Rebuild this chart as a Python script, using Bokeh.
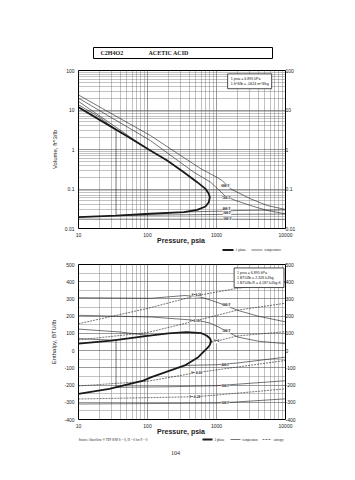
from bokeh.plotting import figure
from bokeh.models import FixedTicker, Label, LogAxis, LinearAxis, Range1d
from bokeh.layouts import column
from bokeh.embed import file_html
from bokeh.resources import INLINE

FONT = "Liberation Sans"

# ---------------- data ----------------
title_formula = "C2H4O2"
title_name = "ACETIC ACID"

pressure_ticks = [10, 100, 1000, 10000]
pressure_labels = ["10", "100", "1000", "10000"]
volume_ticks = [0.01, 0.1, 1, 10, 100]
volume_labels = ["0.01", "0.1", "1", "10", "100"]
enthalpy_ticks = [-400, -300, -200, -100, 0, 100, 200, 300, 400, 500]
enthalpy_labels = ["-400", "-300", "-200", "-100", "0", "100", "200", "300", "400", "500"]
enthalpy_minor = [-350, -250, -150, -50, 50, 150, 250, 350, 450]

# volume chart (psia, ft^3/lb)
sat_vol_p = [10, 20, 50, 110, 193, 336, 525, 693, 773, 800, 773, 693, 525, 336, 110, 35, 10]
sat_vol_v = [11.8, 5.7, 2.2, 0.944, 0.527, 0.266, 0.149, 0.101, 0.0755, 0.062,
             0.0463, 0.0361, 0.0297, 0.0259, 0.0236, 0.0213, 0.0193]
t600_vol_p = [10, 30, 110, 300, 587, 1000, 1210, 1596, 3111, 5430, 10000]
t600_vol_v = [24, 8.1, 2.26, 0.71, 0.33, 0.2, 0.164, 0.101, 0.0565, 0.0382, 0.0303]
t500_vol_p = [10, 30, 110, 300, 469, 819, 1080, 1350, 1885, 3111, 5430, 10000]
t500_vol_v = [20, 6.4, 1.69, 0.47, 0.266, 0.149, 0.0955, 0.065, 0.0512, 0.0382, 0.0286, 0.0236]
t400_vap_p = [10, 30, 90]
t400_vap_v = [16.5, 4.4, 1.17]
t300_vap_p = [10, 20, 35, 35]
t300_vap_v = [13.5, 6.6, 3.17, 0.0213]
t400_liq_p = [336, 1200, 2000, 10000]
t400_liq_v = [0.0262, 0.0275, 0.0285, 0.0295]
t300_liq_p = [35, 300, 1200, 10000]
t300_liq_v = [0.0213, 0.0222, 0.0228, 0.0232]
t100_liq_p = [10, 1200, 10000]
t100_liq_v = [0.0172, 0.0172, 0.0170]
vol_label_text = ["600 F", "500 F", "400 F", "300 F", "100 F"]
vol_label_p = [1350, 1395, 1395, 1420, 1440]
vol_label_v = [0.116, 0.0592, 0.0303, 0.0244, 0.0172]

# enthalpy chart (psia, BTU/lb)
sat_h_p = [10, 30, 100, 200, 367, 606, 717, 800, 835, 800, 758, 543, 347, 114, 87, 28, 10]
sat_h_h = [40, 58, 85, 100, 107, 101, 88, 72, 55, 33, 20, -38, -86, -154, -174, -222, -251]
t600_h_p = [10, 114, 350, 600, 900, 1200, 2100, 4000, 10000]
t600_h_h = [307, 304, 320, 310, 288, 270, 232, 200, 167]
t500_h_p = [10, 114, 543, 800, 1060, 1390, 2060, 4000, 10000]
t500_h_h = [205, 195, 175, 160, 138, 112, 78, 55, 40]
t400_hv_p = [10, 40, 110]
t400_hv_h = [125, 108, 87]
t300_hv_p = [10, 20, 35, 35]
t300_hv_h = [70, 64, 60, -213]
t400_hl_p = [350, 1000, 2000, 10000]
t400_hl_h = [-86, -82, -72, -38]
t300_hl_p = [35, 200, 1000, 2000, 10000]
t300_hl_h = [-213, -210, -204, -195, -175]
t100_hl_p = [10, 1000, 2000, 10000]
t100_hl_h = [-310, -305, -298, -280]
s020_p = [10, 100, 500, 2000, 10000]
s020_h = [156, 245, 318, 362, 397]
s010_p = [10, 100, 475, 2000, 10000]
s010_h = [62, 105, 171, 235, 275]
s000_p = [835, 1000, 2000, 10000]
s000_h = [50, 55, 85, 110]
sm010_p = [10, 100, 513, 1000, 10000]
sm010_h = [-205, -178, -128, -112, -57]
sm020_p = [10, 475, 1000, 10000]
sm020_h = [-281, -268, -258, -222]
h_label_text = ["600 F", "500 F", "400 F", "300 F", "100 F",
                "S=0.20", "S=0.10", "S=0", "S=-0.10", "S=-0.20"]
h_label_p = [1396, 1396, 1344, 1344, 1344, 513, 481, 1000, 513, 481]
h_label_h = [262, 111, -82, -203, -305, 324, 171, 55, -131, -267]

source_text = "Source: Interflow \u00ae TPP 8/89  S = 0, H = 0 for P = 0"
page_number = "104"

minor_p = [k * 10 ** e for e in (1, 2, 3) for k in range(2, 10)]
minor_v = [k * 10.0 ** e for e in (-2, -1, 0, 1) for k in range(2, 10)]

GRID = "#555555"
LINE = "#1a1a1a"
TXT = "#222222"
BL, FW, BR = 78, 207, 70   # shared borders / frame width (px)


def style(p):
    p.outline_line_color = "black"
    p.outline_line_width = 1
    for ax in p.axis:
        ax.major_label_text_font = FONT
        ax.major_label_text_font_size = "5px"
        ax.major_label_text_color = TXT
        ax.major_tick_out = 0
        ax.major_tick_in = 0
        ax.minor_tick_line_color = None
        ax.axis_line_color = None
        ax.major_label_standoff = 0
        ax.axis_label_text_font = FONT
        ax.axis_label_text_font_style = "normal"
        ax.axis_label_text_color = TXT
    for g in p.grid:
        g.grid_line_color = GRID
        g.grid_line_width = 0.6
        g.minor_grid_line_color = "#777777"
        g.minor_grid_line_width = 0.45


def strip(height, top=0):
    s = figure(frame_width=FW, frame_height=height, min_border_left=BL, min_border_right=BR,
               min_border_top=top, min_border_bottom=0, x_range=Range1d(0, FW),
               y_range=Range1d(height, 0), output_backend="svg", toolbar_location=None)
    s.axis.visible = False
    s.grid.visible = False
    s.outline_line_color = None
    return s


def xlabel_style(p):
    p.xaxis.axis_label_text_font_size = "7px"
    p.xaxis.axis_label_text_font_style = "bold"
    p.xaxis.axis_label_standoff = -3
    p.yaxis[0].axis_label_text_font_size = "6px"
    p.yaxis[0].axis_label_standoff = 4


# ---------------- title box ----------------
pt = strip(62)
pt.quad(left=[15], right=[194], top=[47], bottom=[58], fill_color=None, line_color="black", line_width=1)
pt.text(x=[22, 70], y=[52.5, 52.5], text=[title_formula, title_name], text_font=FONT,
        text_font_size="6px", text_font_style="bold", text_baseline="middle", text_color=TXT)

# ---------------- volume chart ----------------
p1 = figure(x_axis_type="log", y_axis_type="log", x_range=Range1d(10, 10000), y_range=Range1d(0.01, 100),
            frame_width=FW, frame_height=158, min_border_left=BL, min_border_right=BR,
            min_border_top=8, min_border_bottom=17, output_backend="svg", toolbar_location=None)
p1.xaxis.ticker = FixedTicker(ticks=pressure_ticks, minor_ticks=minor_p)
p1.yaxis.ticker = FixedTicker(ticks=volume_ticks, minor_ticks=minor_v)
p1.xaxis.major_label_overrides = dict(zip(pressure_ticks, pressure_labels))
p1.yaxis.major_label_overrides = dict(zip(volume_ticks, volume_labels))
ry1 = LogAxis(ticker=FixedTicker(ticks=volume_ticks), major_label_overrides=dict(zip(volume_ticks, volume_labels)))
p1.add_layout(ry1, "right")
p1.xaxis.axis_label = "Pressure,  psia"
p1.yaxis[0].axis_label = "Volume, ft^3/lb"
style(p1)
xlabel_style(p1)

p1.line(sat_vol_p, sat_vol_v, line_color=LINE, line_width=1.8)
for xs, ys in [(t600_vol_p, t600_vol_v), (t500_vol_p, t500_vol_v), (t400_vap_p, t400_vap_v),
               (t300_vap_p, t300_vap_v), (t400_liq_p, t400_liq_v), (t300_liq_p, t300_liq_v),
               (t100_liq_p, t100_liq_v)]:
    p1.line(xs, ys, line_color=LINE, line_width=0.6)
p1.text(x=vol_label_p, y=vol_label_v, text=vol_label_text, text_font=FONT, text_font_size="3.5px",
        text_font_style="bold", text_baseline="middle", text_align="center", text_color="#111111",
        background_fill_color="white", background_fill_alpha=0.9)
p1.add_layout(Label(x=1450, y=82, text="1 psia = 6.895 kPa\n1 ft^3/lb = .0624 m^3/kg", text_font=FONT,
                    text_font_size="3.6px", text_baseline="top", text_color="#111111",
                    border_line_color="#222222", border_line_width=0.8,
                    background_fill_color="white", padding=3))

# legend row under the volume chart
s1 = strip(10)
s1.segment(x0=[144], y0=[1.5], x1=[155], y1=[1.5], line_color=LINE, line_width=1.8)
s1.segment(x0=[173], y0=[1.5], x1=[184], y1=[1.5], line_color=LINE, line_width=0.6)
s1.text(x=[157, 186], y=[1.5, 1.5], text=["2 phase", "temperature"], text_font=FONT,
        text_font_size="3.5px", text_baseline="middle", text_color=TXT)

# ---------------- enthalpy chart ----------------
p2 = figure(x_axis_type="log", x_range=Range1d(10, 10000), y_range=Range1d(-400, 500),
            frame_width=FW, frame_height=155, min_border_left=BL, min_border_right=BR,
            min_border_top=8, min_border_bottom=17, output_backend="svg", toolbar_location=None)
p2.xaxis.ticker = FixedTicker(ticks=pressure_ticks, minor_ticks=minor_p)
p2.yaxis.ticker = FixedTicker(ticks=enthalpy_ticks, minor_ticks=enthalpy_minor)
p2.xaxis.major_label_overrides = dict(zip(pressure_ticks, pressure_labels))
p2.yaxis.major_label_overrides = dict(zip(enthalpy_ticks, enthalpy_labels))
ry2 = LinearAxis(ticker=FixedTicker(ticks=enthalpy_ticks), major_label_overrides=dict(zip(enthalpy_ticks, enthalpy_labels)))
p2.add_layout(ry2, "right")
p2.xaxis.axis_label = "Pressure,  psia"
p2.yaxis[0].axis_label = "Enthalpy, BTU/lb"
style(p2)
xlabel_style(p2)

p2.line(sat_h_p, sat_h_h, line_color=LINE, line_width=1.8)
for xs, ys in [(t600_h_p, t600_h_h), (t500_h_p, t500_h_h), (t400_hv_p, t400_hv_h), (t300_hv_p, t300_hv_h),
               (t400_hl_p, t400_hl_h), (t300_hl_p, t300_hl_h), (t100_hl_p, t100_hl_h)]:
    p2.line(xs, ys, line_color=LINE, line_width=0.6)
for xs, ys in [(s020_p, s020_h), (s010_p, s010_h), (s000_p, s000_h), (sm010_p, sm010_h), (sm020_p, sm020_h)]:
    p2.line(xs, ys, line_color=LINE, line_width=0.6, line_dash="2 1")
p2.text(x=h_label_p, y=h_label_h, text=h_label_text, text_font=FONT, text_font_size="3.5px",
        text_font_style="bold", text_baseline="middle", text_align="center", text_color="#111111",
        background_fill_color="white", background_fill_alpha=0.9)
p2.add_layout(Label(x=1800, y=480, text="1 psia = 6.895 kPa\n1 BTU/lb = 2.326 kJ/kg\n1 BTU/lb-R = 4.187 kJ/kg-K",
                    text_font=FONT, text_font_size="3.6px", text_baseline="top", text_color="#111111",
                    border_line_color="#222222", border_line_width=0.8,
                    background_fill_color="white", padding=3))

# legend / source row and page number
s2 = strip(22)
s2.segment(x0=[124, 152, 184], y0=[2, 2, 2], x1=[134, 162, 193], y1=[2, 2, 2],
           line_color=LINE, line_width=[1.8, 0.6, 0.6], line_dash=["solid", "solid", "2 1"])
s2.text(x=[136, 164, 195], y=[2, 2, 2], text=["2 phase", "temperature", "entropy"], text_font=FONT,
        text_font_size="3.3px", text_baseline="middle", text_color=TXT)
s2.text(x=[0], y=[2], text=[source_text], text_font=FONT, text_font_size="3.3px",
        text_baseline="middle", text_color=TXT)
s2.text(x=[97], y=[15], text=[page_number], text_font=FONT, text_font_size="6px",
        text_baseline="middle", text_align="center", text_color=TXT)

layout = column(pt, p1, s1, p2, s2, spacing=0)
open("out.html", "w").write(file_html(layout, INLINE))
